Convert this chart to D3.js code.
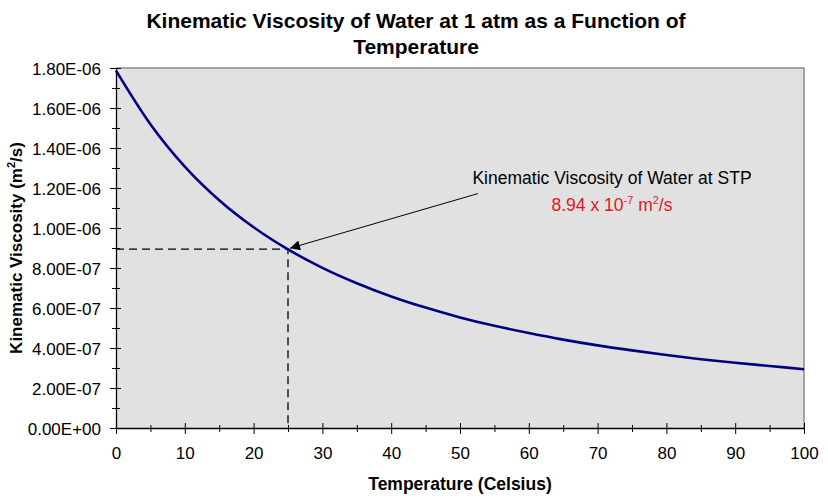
<!DOCTYPE html>
<html>
<head>
<meta charset="utf-8">
<script src="https://cdn.jsdelivr.net/npm/d3@7"></script>
<style>
  body { margin: 0; background: #fff; }
  text { font-family: Arial, "Liberation Sans", sans-serif; }
</style>
</head>
<body>
<div id="chart"></div>
<script>
// temperature (Celsius)
const temps = [0, 5, 10, 15, 20, 25, 30, 35, 40, 45, 50, 55, 60, 65, 70, 75, 80, 85, 90, 95, 100]
// kinematic viscosity (m^2/s)
const viscosity = [1.787e-6, 1.519e-6, 1.307e-6, 1.139e-6, 1.004e-6, 0.893e-6, 0.801e-6, 0.724e-6,
  0.658e-6, 0.602e-6, 0.553e-6, 0.511e-6, 0.475e-6, 0.442e-6, 0.413e-6, 0.388e-6, 0.365e-6,
  0.344e-6, 0.326e-6, 0.310e-6, 0.294e-6]
const xTicks = [0, 10, 20, 30, 40, 50, 60, 70, 80, 90, 100]
const yTicks = [0, 2e-7, 4e-7, 6e-7, 8e-7, 1e-6, 1.2e-6, 1.4e-6, 1.6e-6, 1.8e-6]
const yTickLabels = ['0.00E+00', '2.00E-07', '4.00E-07', '6.00E-07', '8.00E-07',
  '1.00E-06', '1.20E-06', '1.40E-06', '1.60E-06', '1.80E-06']
// STP point and where the callout arrow starts
const stp = { t: 25, v: 8.94e-7 }
const arrowFrom = { t: 52.6, v: 1.172e-6 }

const width = 828, height = 501
const padding = { top: 68, left: 116, bottom: 73, right: 24 }
const FONT = 'Arial, "Liberation Sans", sans-serif'

const svg = d3.select('#chart').append('svg')
  .attr('width', width)
  .attr('height', height)

const xScale = d3.scaleLinear().domain([0, 100]).range([padding.left, width - padding.right])
const yScale = d3.scaleLinear().domain([0, 1.8e-6]).range([height - padding.bottom, padding.top])

// plot area
svg.append('rect')
  .attr('x', xScale(0)).attr('y', yScale(1.8e-6))
  .attr('width', xScale(100) - xScale(0))
  .attr('height', yScale(0) - yScale(1.8e-6))
  .attr('fill', '#e1e1e1')
svg.append('path')
  .attr('d', `M${xScale(0)},${yScale(1.8e-6)}H${xScale(100)}V${yScale(0)}`)
  .attr('fill', 'none')
  .attr('stroke', '#8c8c8c')
  .attr('stroke-width', 1.5)

// minor ticks
const yMinor = d3.range(1, 18, 2).map(d => d * 1e-7)
const xMinor = d3.range(5, 100, 10)
svg.append('g')
  .attr('transform', 'translate(' + xScale(0) + ',0)')
  .call(d3.axisLeft(yScale).tickValues(yMinor).tickSize(4).tickFormat(''))
  .call(g => g.select('.domain').remove())
  .call(g => g.selectAll('line').attr('x2', -4).attr('x1', 4).attr('stroke', '#000'))
svg.append('g')
  .attr('transform', 'translate(0,' + yScale(0) + ')')
  .call(d3.axisBottom(xScale).tickValues(xMinor).tickFormat(''))
  .call(g => g.select('.domain').remove())
  .call(g => g.selectAll('line').attr('y1', -3).attr('y2', 4).attr('stroke', '#000'))

// y axis
svg.append('g')
  .attr('transform', 'translate(' + xScale(0) + ',0)')
  .call(d3.axisLeft(yScale).tickValues(yTicks).tickSizeOuter(0)
    .tickFormat((d, i) => yTickLabels[i]))
  .call(g => g.selectAll('line').attr('x1', 5).attr('x2', -6))
  .call(g => g.selectAll('text').attr('x', -15).attr('dy', '0.36em')
    .attr('font-size', 17).attr('font-family', FONT))

// x axis
svg.append('g')
  .attr('transform', 'translate(0,' + yScale(0) + ')')
  .call(d3.axisBottom(xScale).tickValues(xTicks).tickSizeOuter(0))
  .call(g => g.selectAll('line').attr('y1', -5).attr('y2', 6))
  .call(g => g.selectAll('text').attr('y', 19)
    .attr('font-size', 17).attr('font-family', FONT))
svg.selectAll('.domain').attr('stroke', '#000').attr('stroke-width', 1.3)
svg.selectAll('.tick line').attr('stroke', '#000')

// dashed guides to STP point
svg.append('path')
  .attr('d', `M${xScale(0)},${yScale(stp.v)}H${xScale(stp.t)}V${yScale(0)}`)
  .attr('fill', 'none')
  .attr('stroke', '#000')
  .attr('stroke-width', 1.3)
  .attr('stroke-dasharray', '8,5')

// curve
const linePath = d3.line()
  .x((d, i) => xScale(temps[i]))
  .y(d => yScale(d))
  .curve(d3.curveMonotoneX)
svg.append('path')
  .attr('d', linePath(viscosity))
  .attr('fill', 'none')
  .attr('stroke', '#000080')
  .attr('stroke-width', 2.6)

// callout arrow
svg.append('defs').append('marker')
  .attr('id', 'arrow')
  .attr('viewBox', '0 0 10 10')
  .attr('refX', 10).attr('refY', 5)
  .attr('markerUnits', 'userSpaceOnUse')
  .attr('markerWidth', 13).attr('markerHeight', 10)
  .attr('orient', 'auto')
  .append('path')
  .attr('d', 'M0,0L10,5L0,10Z')
  .attr('fill', '#000')
svg.append('line')
  .attr('x1', xScale(arrowFrom.t)).attr('y1', yScale(arrowFrom.v))
  .attr('x2', xScale(stp.t) + 2).attr('y2', yScale(stp.v) - 1)
  .attr('stroke', '#000')
  .attr('stroke-width', 1)
  .attr('marker-end', 'url(#arrow)')

const note = svg.append('g')
note.append('text')
  .attr('x', 612).attr('y', 184)
  .attr('text-anchor', 'middle')
  .attr('font-size', 17.5)
  .text('Kinematic Viscosity of Water at STP')
const red = note.append('text')
  .attr('x', 612).attr('y', 211)
  .attr('text-anchor', 'middle')
  .attr('fill', '#e8141c')
  .attr('font-size', 17.5)
red.append('tspan').text('8.94 x 10')
red.append('tspan').attr('dy', -7).attr('font-size', 11).text('-7')
red.append('tspan').attr('dy', 7).text(' m')
red.append('tspan').attr('dy', -7).attr('font-size', 11).text('2')
red.append('tspan').attr('dy', 7).text('/s')

// titles
const title = svg.append('text')
  .attr('text-anchor', 'middle')
  .attr('font-size', 21)
  .attr('font-weight', 'bold')
title.append('tspan').attr('x', 416).attr('y', 28).text('Kinematic Viscosity of Water at 1 atm as a Function of')
title.append('tspan').attr('x', 416).attr('y', 54).text('Temperature')

svg.append('text')
  .attr('x', xScale(50)).attr('y', 490)
  .attr('text-anchor', 'middle')
  .attr('font-size', 17.5)
  .attr('font-weight', 'bold')
  .text('Temperature (Celsius)')

const yTitle = svg.append('text')
  .attr('transform', 'translate(22,' + yScale(9e-7) + ') rotate(-90)')
  .attr('text-anchor', 'middle')
  .attr('font-size', 17)
  .attr('font-weight', 'bold')
yTitle.append('tspan').text('Kinematic Viscosity (m')
yTitle.append('tspan').attr('dy', -7).attr('font-size', 11).text('2')
yTitle.append('tspan').attr('dy', 7).text('/s)')
</script>
</body>
</html>
